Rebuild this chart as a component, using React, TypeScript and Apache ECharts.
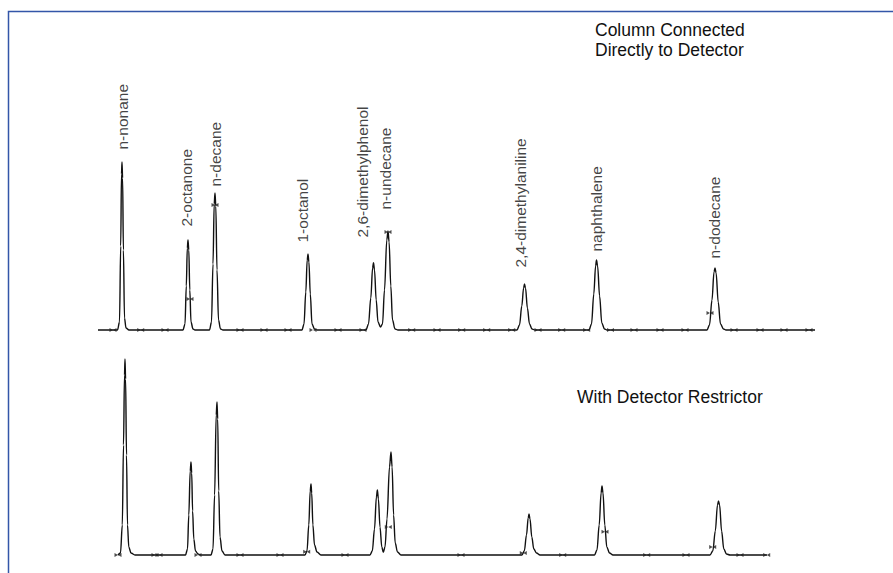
import React, { useEffect, useRef } from "react";
import * as echarts from "echarts";

// Retention axis in arbitrary units (0..720), signal in % of scale (0..100)
const compounds = [
  "n-nonane",
  "2-octanone",
  "n-decane",
  "1-octanol",
  "2,6-dimethylphenol",
  "n-undecane",
  "2,4-dimethylaniline",
  "naphthalene",
  "n-dodecane",
];

// label anchor (bottom of rotated text) in top-trace data units
const labelX = [25, 89.3, 118, 204.7, 265, 287.7, 423, 498.7, 617];
const labelY = [90, 51.5, 71.5, 43.5, 46, 60, 31, 39, 35.5];

// Trace 1: column connected directly to detector
const traceDirect: number[][] = [
  [0, 0], [19.5, 0], [21.5, 4], [22.7, 42], [23.5, 78], [24, 84], [24.6, 76], [25.4, 40], [26.5, 6], [28, 1], [31, 0],
  [85, 0], [87, 3], [88.3, 22], [89.3, 41], [90, 45], [90.8, 40], [91.8, 20], [93, 4], [95, 0.5], [97, 0],
  [111.5, 0], [113.5, 4], [115, 33], [116.2, 63], [117, 68.5], [117.8, 62], [119, 30], [120.5, 5], [122.5, 0.5], [125, 0],
  [204, 0], [206, 3], [207.8, 19], [209.2, 35], [210, 38], [210.9, 34], [212.3, 18], [214, 3], [216.5, 0.5], [219, 0],
  [268, 0], [270.5, 3], [272.8, 16], [274.6, 31], [275.5, 33.6], [276.5, 30], [278.2, 15], [280, 4], [282.5, 1.5],
  [284.5, 3], [286.5, 20], [288.8, 45], [290, 49.5], [291.1, 44], [292.8, 22], [294.5, 5], [297, 0.5], [300, 0],
  [419, 0], [421.5, 2.5], [423.8, 12], [425.6, 21], [426.5, 23], [427.5, 21], [429.4, 11], [431.5, 3], [434, 0.5], [437, 0],
  [491, 0], [493.5, 3], [495.8, 18], [497.6, 32], [498.5, 35], [499.6, 32], [501.6, 17], [503.8, 3.5], [506.5, 0.5], [509, 0],
  [609, 0], [611.5, 2.5], [614, 15], [616, 29], [617, 31], [618.1, 28.5], [620.2, 14], [622.5, 3], [625.5, 0.5], [628, 0],
  [717, 0],
];

// Trace 2: with detector restrictor
const traceRestrictor: number[][] = [
  [20, 0], [22.5, 1], [24.3, 15], [25.5, 55], [26.5, 90], [27, 98], [27.6, 88], [28.5, 50], [29.5, 15], [30.8, 4], [33, 1], [37, 0],
  [87.5, 0], [89.5, 3], [90.8, 20], [92.2, 42], [93, 46.5], [93.7, 41], [94.6, 22], [95.8, 8], [97.5, 2], [100, 0.5], [103, 0],
  [113, 0], [115, 3], [116.6, 30], [118.2, 70], [119, 76.5], [119.7, 68], [120.7, 32], [122, 9], [124, 2], [127, 0],
  [207, 0], [209, 2], [210.8, 15], [212.2, 32], [213, 35.5], [213.7, 31], [214.9, 15], [216.5, 5], [219, 1.5], [223, 0],
  [272, 0], [274.3, 2], [276.5, 13], [278.4, 29], [279.4, 32.5], [280.4, 28], [282, 14], [283.8, 4], [285.3, 1.3],
  [287, 4], [289, 18], [291.5, 44], [293, 51.5], [294.1, 44], [295.6, 20], [297.2, 6], [299.5, 1.5], [303, 0],
  [424, 0], [426.3, 2], [428.5, 10], [430.2, 18.5], [431, 20.5], [432, 18], [433.8, 9], [435.8, 3], [438.5, 1], [442, 0],
  [496.5, 0], [499, 2.5], [501.2, 15], [503.1, 31], [504, 34.5], [505, 31], [506.8, 15], [508.8, 4], [511.5, 1], [515, 0],
  [612, 0], [614.8, 2], [617.3, 12], [619.5, 25], [620.5, 27], [621.6, 25], [623.6, 12], [625.8, 3], [628.5, 0.5], [632, 0],
  [669, 0],
];

// integration markers on the traces
const markersDirect: number[][] = [
  [15, 0], [42.7, 0], [67, 0], [92, 15.5], [117, 62.5], [142, 0], [166, 0], [190, 0], [215, 0], [240, 0], [265, 0],
  [290, 49], [313.7, 0], [339, 0], [363.7, 0], [388.7, 0], [413.7, 0], [440, 0], [463.7, 0], [488.7, 0], [512.5, 0],
  [536, 0], [562, 0], [587, 0], [612, 8.5], [636, 0], [662, 0], [686, 0], [711, 0],
];
const markersRestrictor: number[][] = [
  [20, 0], [57, 0], [61, 0], [100, 0], [142, 0], [182, 0], [208.7, 1.6], [247, 0], [290.3, 14], [363, 0],
  [425.3, 1], [464.7, 0], [507, 11.6], [548.7, 0], [588, 0], [614.7, 4], [642, 0], [668.7, 0],
];

const titleDirect = "Column Connected\nDirectly to Detector";
const titleRestrictor = "With Detector Restrictor";

const FONT = "'Liberation Sans', Arial, Helvetica, sans-serif";
const INK = "#111111";
const bowtie = "path://M0,0L4,2L0,4Z M8,0L4,2L8,4Z";

export default function App() {
  const ref = useRef<HTMLDivElement>(null);

  useEffect(() => {
    if (!ref.current) return;
    const chart = echarts.init(ref.current, undefined, { renderer: "svg" });

    const axisX = (gridIndex: number) => ({
      type: "value" as const,
      gridIndex,
      min: 0,
      max: 720,
      show: false,
    });
    const axisY = (gridIndex: number) => ({
      type: "value" as const,
      gridIndex,
      min: 0,
      max: 100,
      show: false,
    });

    const lineSeries = (data: number[][], idx: number) => ({
      type: "line" as const,
      xAxisIndex: idx,
      yAxisIndex: idx,
      data,
      symbol: "none",
      smooth: 0.35,
      smoothMonotone: "x" as const,
      clip: false,
      lineStyle: { color: INK, width: 1.4 },
      silent: true,
    });

    const markerSeries = (data: number[][], idx: number) => ({
      type: "scatter" as const,
      xAxisIndex: idx,
      yAxisIndex: idx,
      data,
      symbol: bowtie,
      symbolSize: [7, 4],
      itemStyle: { color: "#222" },
      silent: true,
      z: 3,
    });

    chart.setOption({
      animation: false,
      backgroundColor: "#ffffff",
      grid: [
        { left: 98, top: 130, width: 720, height: 200 },
        { left: 98, top: 355, width: 720, height: 200 },
      ],
      xAxis: [axisX(0), axisX(1)],
      yAxis: [axisY(0), axisY(1)],
      series: [
        lineSeries(traceDirect, 0),
        lineSeries(traceRestrictor, 1),
        markerSeries(markersDirect, 0),
        markerSeries(markersRestrictor, 1),
        {
          type: "scatter",
          xAxisIndex: 0,
          yAxisIndex: 0,
          symbolSize: 1,
          itemStyle: { color: "transparent" },
          silent: true,
          data: compounds.map((name, i) => ({ name, value: [labelX[i], labelY[i]] })),
          label: {
            show: true,
            formatter: "{b}",
            rotate: 90,
            position: [0, 0],
            align: "left",
            verticalAlign: "middle",
            color: INK,
            fontFamily: FONT,
            fontSize: 15.5,
          },
        },
      ],
      graphic: [
        {
          type: "rect",
          shape: { x: 8.5, y: 11.5, width: 1000, height: 1000 },
          style: { fill: "none", stroke: "#3356a8", lineWidth: 1.5 },
          silent: true,
        },
        {
          type: "text",
          x: 595,
          y: 20,
          style: {
            text: titleDirect,
            fill: INK,
            font: `17.5px ${FONT}`,
            lineHeight: 20,
            verticalAlign: "top",
          },
        },
        {
          type: "text",
          x: 577,
          y: 387,
          style: {
            text: titleRestrictor,
            fill: INK,
            font: `17.5px ${FONT}`,
            lineHeight: 20,
            verticalAlign: "top",
          },
        },
      ],
    });

    return () => chart.dispose();
  }, []);

  return (
    <div
      ref={ref}
      style={{ position: "fixed", left: 0, top: 0, width: 893, height: 573, background: "#fff" }}
    />
  );
}
